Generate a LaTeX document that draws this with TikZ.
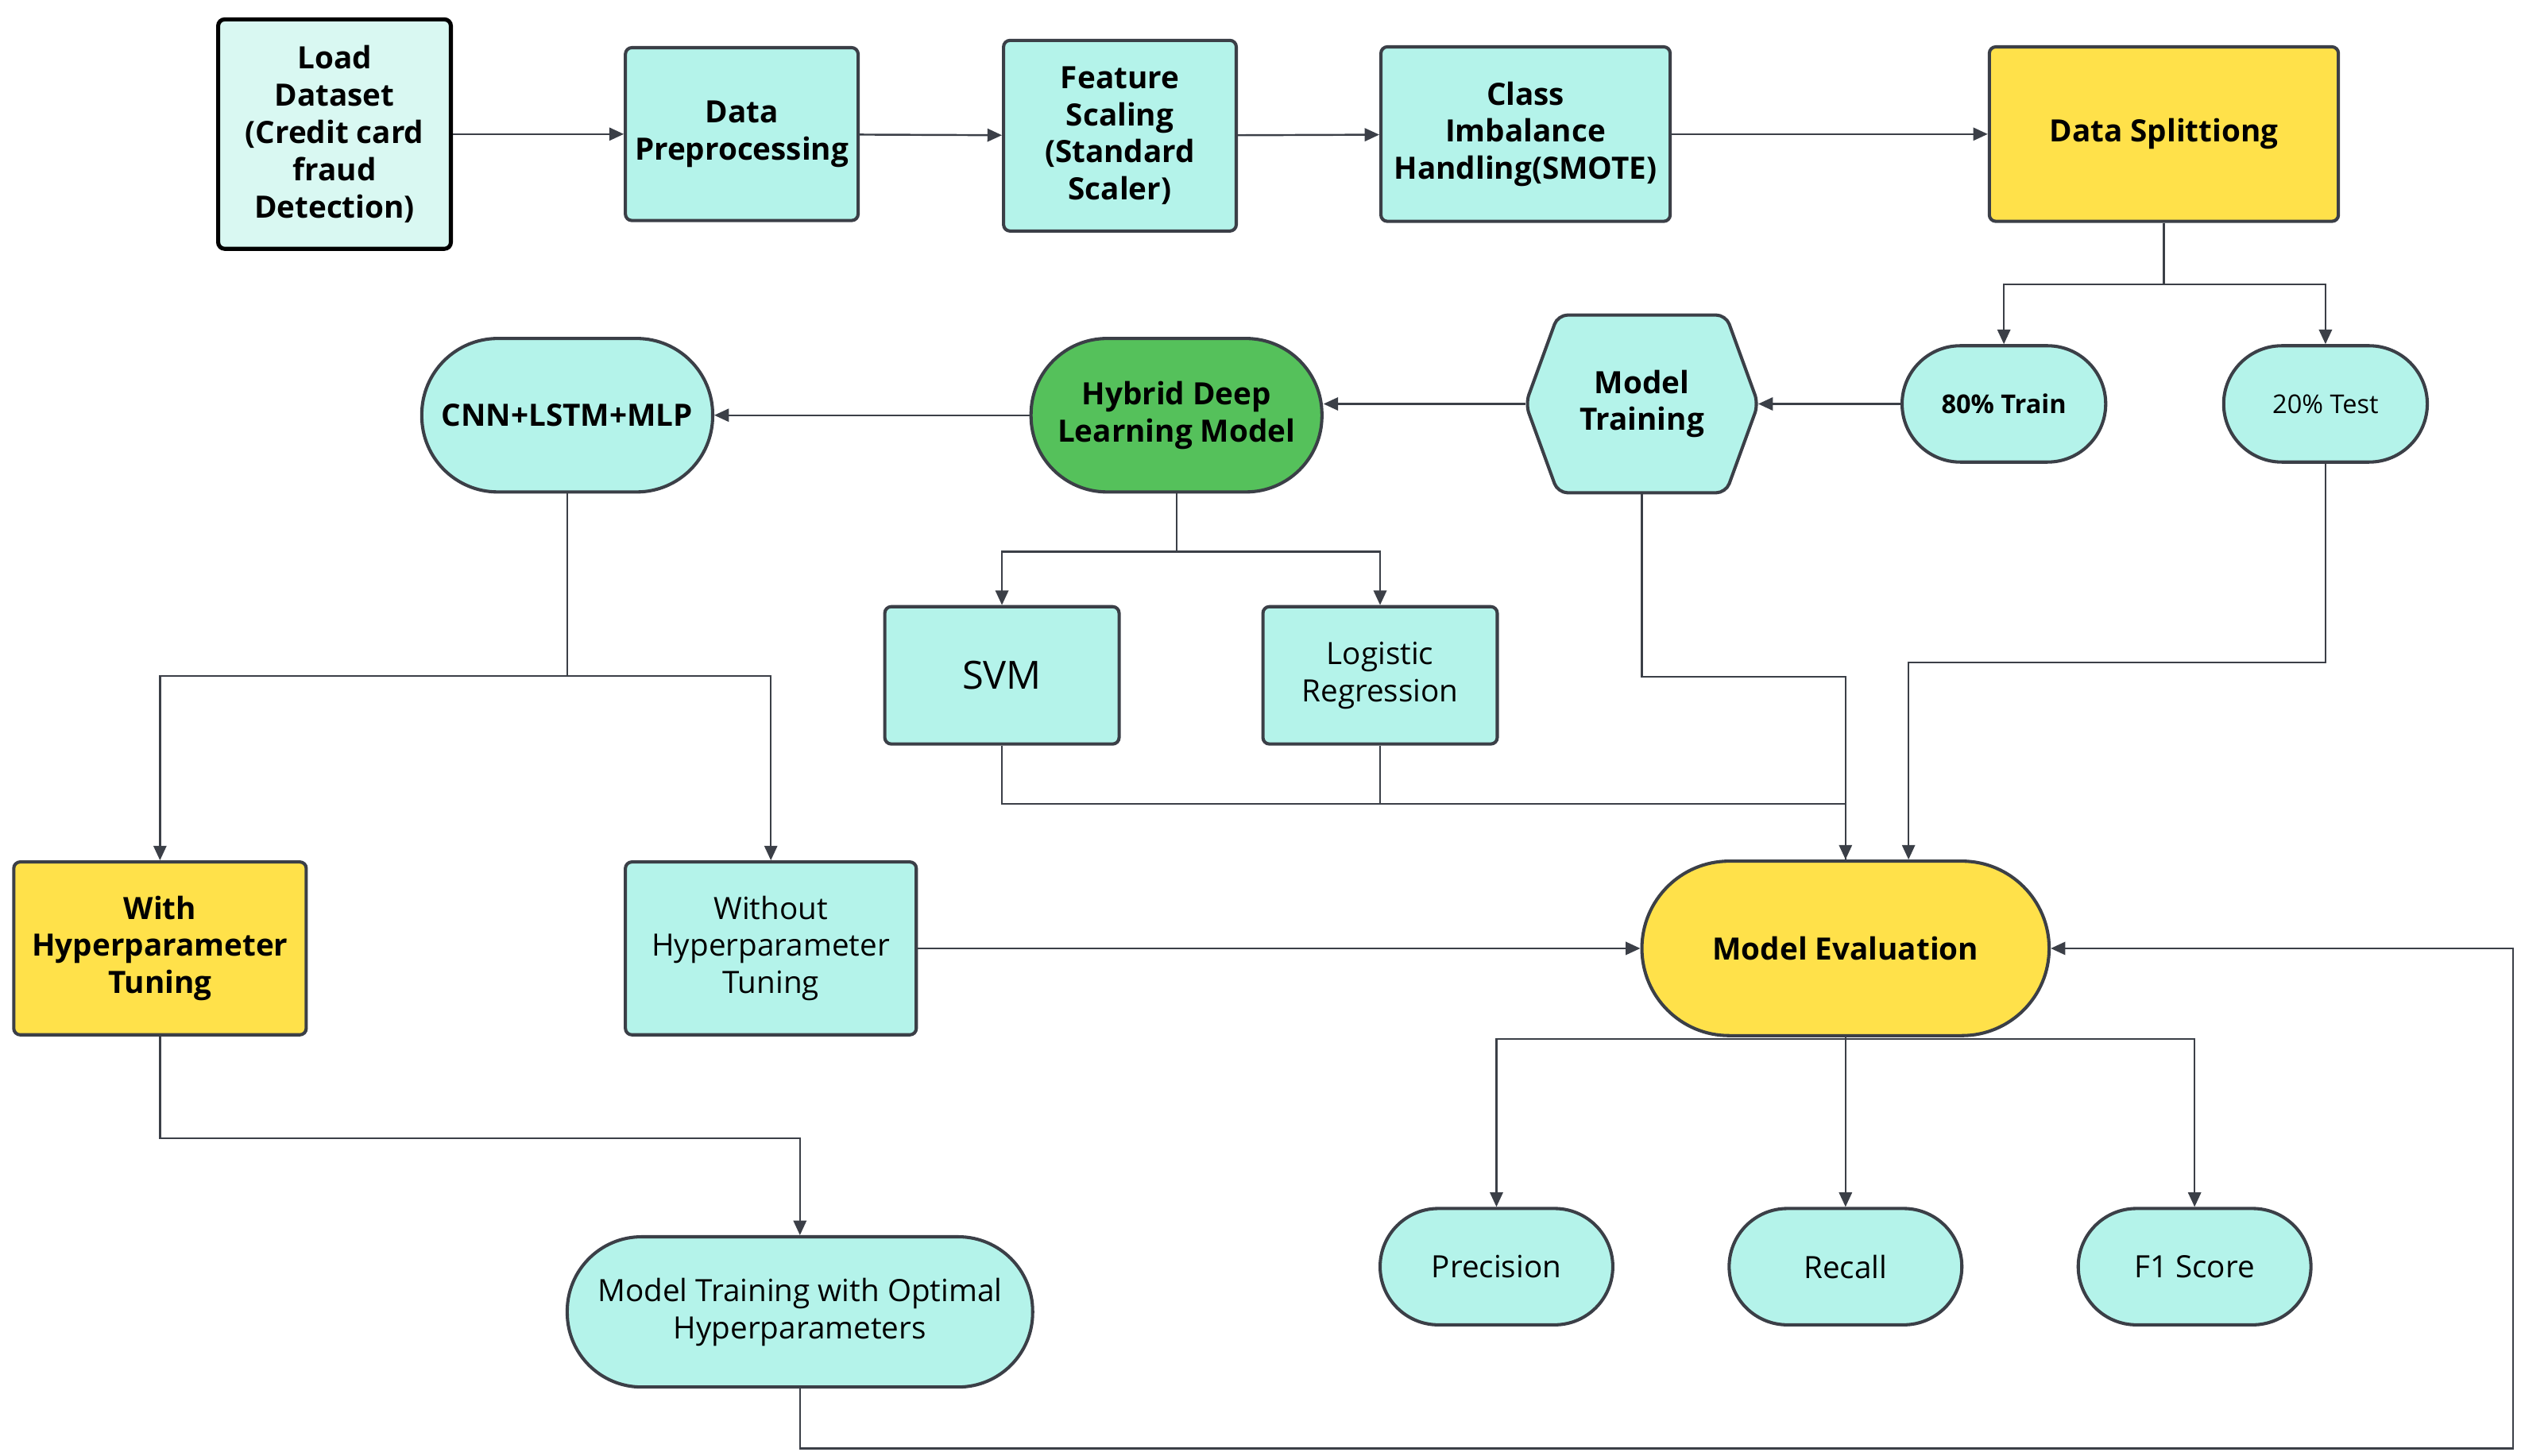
\documentclass[tikz,border=0pt]{standalone}
\usepackage{fontspec}
\setmainfont{Open Sans}
\usetikzlibrary{arrows.meta,calc}
\definecolor{teal1}{HTML}{B4F3EA}
\definecolor{teal0}{HTML}{D9F8F2}
\definecolor{yel}{HTML}{FFE14A}
\definecolor{grn}{HTML}{55C15B}
\definecolor{edge}{HTML}{3B3F47}
\begin{document}
\begin{tikzpicture}[x=1pt,y=-1pt,
 box/.style={draw=edge,line width=2pt,fill=teal1,rounded corners=4pt,align=center,inner sep=0pt,font=\fontsize{19}{23}\selectfont\bfseries},
 pill/.style={box,rounded corners=#1},
 nb/.style={font=\fontsize{19}{23}\selectfont},
 ar/.style={draw=edge,line width=1.2pt,-{Triangle[length=9pt,width=8pt]}},
 ln/.style={draw=edge,line width=1.2pt}]
\useasboundingbox (0,0) rectangle (1560,901);
\fill[white] (0,0) rectangle (1560,901);
\node[box,fill=teal0,draw=black,line width=2.5pt,minimum width=144,minimum height=142] (load) at (207,83) {Load\\Dataset\\(Credit card\\fraud\\Detection)};
\node[box,minimum width=144,minimum height=107] (prep) at (459,83) {Data\\Preprocessing};
\node[box,minimum width=144,minimum height=118] (scal) at (693,84) {Feature\\Scaling\\(Standard\\Scaler)};
\node[box,minimum width=179,minimum height=108] (smote) at (944,83) {Class\\Imbalance\\Handling(SMOTE)};
\node[box,fill=yel,minimum width=216,minimum height=108] (split) at (1339,83) {Data Splittiong};
\node[pill=36pt,minimum width=126,minimum height=72,font=\fontsize{16}{20}\selectfont\bfseries] (tr) at (1240,250) {80\% Train};
\node[pill=36pt,minimum width=126,minimum height=72,font=\fontsize{16}{20}\selectfont] (te) at (1439,250) {20\% Test};
\node[box,draw=none,fill=none,minimum width=142,minimum height=108] (mt) at (1016,250) {};
\draw[edge,line width=2pt,fill=teal1,rounded corners=6pt] (mt.west) -- ($(mt.north west)+(20,0)$) -- ($(mt.north east)+(-20,0)$) -- (mt.east) -- ($(mt.south east)+(-20,0)$) -- ($(mt.south west)+(20,0)$) -- cycle;
\node[align=center,font=\fontsize{19}{23}\selectfont\bfseries] at (mt) {Model\\Training};
\node[pill=47pt,fill=grn,minimum width=180,minimum height=95] (hy) at (728,257) {Hybrid Deep\\Learning Model};
\node[pill=47pt,minimum width=180,minimum height=95] (cnn) at (351,257) {CNN+LSTM+MLP};
\node[box,nb,font=\fontsize{24}{28}\selectfont,minimum width=145,minimum height=85] (svm) at (620,418) {SVM};
\node[box,nb,minimum width=145,minimum height=85] (lr) at (854,418) {Logistic\\Regression};
\node[box,fill=yel,minimum width=181,minimum height=107] (with) at (99,587) {With\\Hyperparameter\\Tuning};
\node[box,nb,minimum width=180,minimum height=107] (wo) at (477,587) {Without\\Hyperparameter\\Tuning};
\node[pill=54pt,fill=yel,minimum width=252,minimum height=108] (ev) at (1142,587) {Model Evaluation};
\node[pill=36pt,nb,minimum width=144,minimum height=72] (pr) at (926,784) {Precision};
\node[pill=36pt,nb,minimum width=144,minimum height=72] (rc) at (1142,784) {Recall};
\node[pill=36pt,nb,minimum width=144,minimum height=72] (f1) at (1358,784) {F1 Score};
\node[pill=46pt,nb,minimum width=288,minimum height=93] (op) at (495,812) {Model Training with Optimal\\Hyperparameters};
\draw[ar] (load) -- (prep);
\draw[ar] (prep) -- (scal);
\draw[ar] (scal) -- (smote);
\draw[ar] (smote) -- (split);
\draw[ar] (split.south) -- ++(0,38) -| (tr.north);
\draw[ar] (split.south) -- ++(0,38) -| (te.north);
\draw[ar] (tr) -- (mt.east);
\draw[ar] (mt.west) -- (hy.east |- mt.west);
\draw[ar] (hy) -- (cnn);
\draw[ar] (hy.south) -- ++(0,36) -| (svm.north);
\draw[ar] (hy.south) -- ++(0,36) -| (lr.north);
\draw[ar] (cnn.south) -- ++(0,113) -| (with.north);
\draw[ar] (cnn.south) -- ++(0,113) -| (wo.north);
\draw[ar] (with.south) -- ++(0,63) -| (op.north);
\draw[ar] (op.south) -- ++(0,37) -| (1555,587) -- (ev.east);
\draw[ar] (wo) -- (ev);
\draw[ar] (mt.south) -- ++(0,114) -| (ev.north);
\draw[ar] (te.south) -- ++(0,123) -| ($(ev.north)+(39,0)$);
\draw[ln] (svm.south) -- ++(0,36) -| (ev.north);
\draw[ln] (lr.south) -- ++(0,36);
\draw[ar] (ev.south) -- ++(0,1) -| (pr.north);
\draw[ar] (ev.south) -- (rc.north);
\draw[ar] (ev.south) -- ++(0,1) -| (f1.north);
\end{tikzpicture}
\end{document}
